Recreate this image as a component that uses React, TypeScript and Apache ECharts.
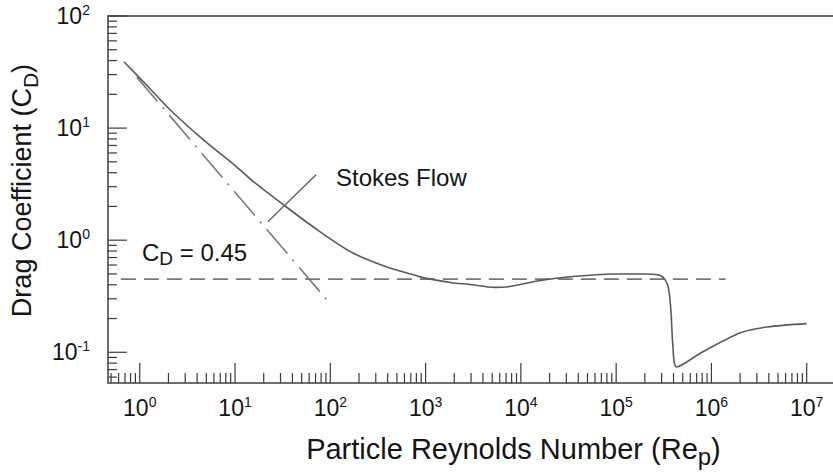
import React, { useEffect, useRef } from "react";
import * as echarts from "echarts";

// Standard drag curve (Particle Reynolds number vs drag coefficient)
const reynolds = [
  0.681, 1.19, 2.09, 4.66, 10.3, 15.5, 33.2, 76.9, 171, 379, 851, 990, 1895, 2830, 5330, 7405,
  13930, 31300, 95300, 214200, 295000, 346700, 375200, 393600, 433200, 771600, 2.017e6, 3.83e6, 1.0e7,
];
const dragCoefficient = [
  39.1, 24.0, 14.5, 7.85, 4.54, 3.35, 2.03, 1.2, 0.772, 0.583, 0.475, 0.459, 0.417, 0.404, 0.379, 0.384,
  0.428, 0.469, 0.499, 0.499, 0.482, 0.4, 0.24, 0.117, 0.074, 0.0986, 0.1495, 0.168, 0.18,
];

// Stokes-flow asymptote (dash-dot)
const stokesRe = [0.93, 100];
const stokesCd = [28.5, 0.27];

// Newton regime constant C_D = 0.45 (dashed)
const constantRe = [0.634, 1.41e6];
const constantCd = [0.45, 0.45];

// Pointer line for the "Stokes Flow" annotation
const pointerRe = [22.2, 70.9];
const pointerCd = [1.47, 3.83];

// Axis ranges and decades
const xRange = [0.4634, 1.888e7];
const yRange = [0.0532, 100];
const xDecades = [0, 1, 2, 3, 4, 5, 6, 7];
const yDecades = [-1, 0, 1, 2];
const minorMultipliers = [2, 3, 4, 5, 6, 7, 8, 9];

const FONT = "'Liberation Sans', Arial, sans-serif";
const TEXT = "#141414";

function buildTicks(range: number[], decades: number[]) {
  const major: number[] = [];
  const minor: number[] = [];
  const lo = Math.floor(Math.log10(range[0]));
  const hi = Math.floor(Math.log10(range[1]));
  for (let d = lo; d <= hi; d++) {
    const base = Math.pow(10, d);
    if (decades.indexOf(d) >= 0) major.push(base);
    minorMultipliers.forEach((m) => {
      const v = m * base;
      if (v >= range[0] && v <= range[1]) minor.push(v);
    });
  }
  return { major, minor };
}

function powerLabel(v: number) {
  const l = Math.log10(v);
  const e = Math.round(l);
  if (Math.abs(l - e) > 1e-6) return "";
  return `{b|10}{s|${e}}`;
}

const labelRich = {
  b: { fontSize: 23, lineHeight: 26, fontFamily: FONT, color: TEXT, verticalAlign: "middle" },
  s: { fontSize: 14, lineHeight: 18, fontFamily: FONT, color: TEXT, verticalAlign: "top" },
};

export default function App() {
  const ref = useRef<HTMLDivElement>(null);

  useEffect(() => {
    if (!ref.current) return;
    const chart = echarts.init(ref.current, undefined, { renderer: "svg" });

    const xt = buildTicks(xRange, xDecades);
    const yt = buildTicks(yRange, yDecades);
    const tickData: number[][] = [];
    xt.major.forEach((v) => tickData.push([v, yRange[0], 0, 1]));
    xt.minor.forEach((v) => tickData.push([v, yRange[0], 0, 0]));
    yt.major.forEach((v) => tickData.push([xRange[0], v, 1, 1]));
    yt.minor.forEach((v) => tickData.push([xRange[0], v, 1, 0]));

    const axisLine = { show: true, lineStyle: { color: "#6e6e6e", width: 2 } };

    chart.setOption({
      animation: false,
      backgroundColor: "#ffffff",
      grid: { left: 104, top: 16, right: 0, bottom: 90, containLabel: false },
      xAxis: [
        {
          type: "log",
          logBase: 10,
          min: xRange[0],
          max: xRange[1],
          axisLine,
          axisTick: { show: false },
          splitLine: { show: false },
          axisLabel: {
            formatter: powerLabel,
            margin: 12,
            showMinLabel: false,
            showMaxLabel: false,
            rich: labelRich,
          },
          name: "{t|Particle Reynolds Number (Re}{p|p}{t|)}",
          nameLocation: "middle",
          nameGap: 51,
          nameTextStyle: {
            padding: [0, 0, 0, 86],
            rich: {
              t: { fontSize: 29, lineHeight: 34, fontFamily: FONT, color: TEXT, verticalAlign: "top" },
              p: { fontSize: 24, lineHeight: 24, fontFamily: FONT, color: TEXT, verticalAlign: "bottom" },
            },
          },
        },
        {
          type: "log",
          logBase: 10,
          position: "top",
          min: xRange[0],
          max: xRange[1],
          axisLine,
          axisTick: { show: false },
          axisLabel: { show: false },
          splitLine: { show: false },
        },
      ],
      yAxis: {
        type: "log",
        logBase: 10,
        min: yRange[0],
        max: yRange[1],
        axisLine,
        axisTick: { show: false },
        splitLine: { show: false },
        axisLabel: {
          formatter: powerLabel,
          margin: 18,
          showMinLabel: false,
          rich: labelRich,
        },
        name: "{t|Drag Coefficient (C}{d|D}{t|)}",
        nameLocation: "middle",
        nameGap: 64,
        nameTextStyle: {
          padding: [0, 0, 0, 18],
          rich: {
            t: { fontSize: 27, lineHeight: 33, fontFamily: FONT, color: TEXT, verticalAlign: "top" },
            d: { fontSize: 21, lineHeight: 21, fontFamily: FONT, color: TEXT, verticalAlign: "bottom" },
          },
        },
      },
      series: [
        {
          name: "ticks",
          type: "custom",
          coordinateSystem: "cartesian2d",
          clip: false,
          silent: true,
          dimensions: ["x", "y", "kind", "major"],
          encode: { x: 0, y: 1 },
          data: tickData,
          renderItem: (params: any, api: any) => {
            const kind = api.value(2);
            const major = api.value(3) === 1;
            const p = api.coord([api.value(0), api.value(1)]);
            const len = kind === 0 ? (major ? 20 : 10) : major ? 19 : 9;
            const shape =
              kind === 0
                ? { x1: p[0], y1: p[1], x2: p[0], y2: p[1] - len }
                : { x1: p[0], y1: p[1], x2: p[0] + len, y2: p[1] };
            return { type: "line", shape, style: { stroke: "#3a3a3a", lineWidth: 1.2 } };
          },
          z: 3,
        },
        {
          name: "Drag curve",
          type: "line",
          showSymbol: false,
          smooth: 0.3,
          data: reynolds.map((r, i) => [r, dragCoefficient[i]]),
          lineStyle: { color: "#5a5a5a", width: 1.6 },
          z: 4,
        },
        {
          name: "Stokes",
          type: "line",
          showSymbol: false,
          data: stokesRe.map((r, i) => [r, stokesCd[i]]),
          lineStyle: { color: "#7a7a7a", width: 1.6, type: [32, 8, 2, 8] },
          z: 3,
        },
        {
          name: "CD 0.45",
          type: "line",
          showSymbol: false,
          data: constantRe.map((r, i) => [r, constantCd[i]]),
          lineStyle: { color: "#777777", width: 1.8, type: [15, 8] },
          z: 3,
        },
        {
          name: "pointer",
          type: "line",
          showSymbol: false,
          data: pointerRe.map((r, i) => [r, pointerCd[i]]),
          lineStyle: { color: "#666666", width: 1.5 },
          z: 3,
        },
      ],
      graphic: [
        {
          type: "text",
          x: 336,
          y: 177,
          style: {
            text: "Stokes Flow",
            fontSize: 24,
            fontFamily: FONT,
            fill: TEXT,
            verticalAlign: "middle",
          },
        },
        {
          type: "text",
          x: 142,
          y: 254,
          style: {
            text: "{c|C}{d|D}{c| = 0.45}",
            verticalAlign: "middle",
            rich: {
              c: { fontSize: 24, lineHeight: 28, fontFamily: FONT, fill: TEXT, verticalAlign: "top" },
              d: { fontSize: 19, lineHeight: 19, fontFamily: FONT, fill: TEXT, verticalAlign: "bottom" },
            },
          },
        },
      ],
    });

    return () => chart.dispose();
  }, []);

  return (
    <div
      ref={ref}
      style={{ position: "absolute", left: 0, top: 0, width: 833, height: 473, background: "#fff" }}
    />
  );
}
